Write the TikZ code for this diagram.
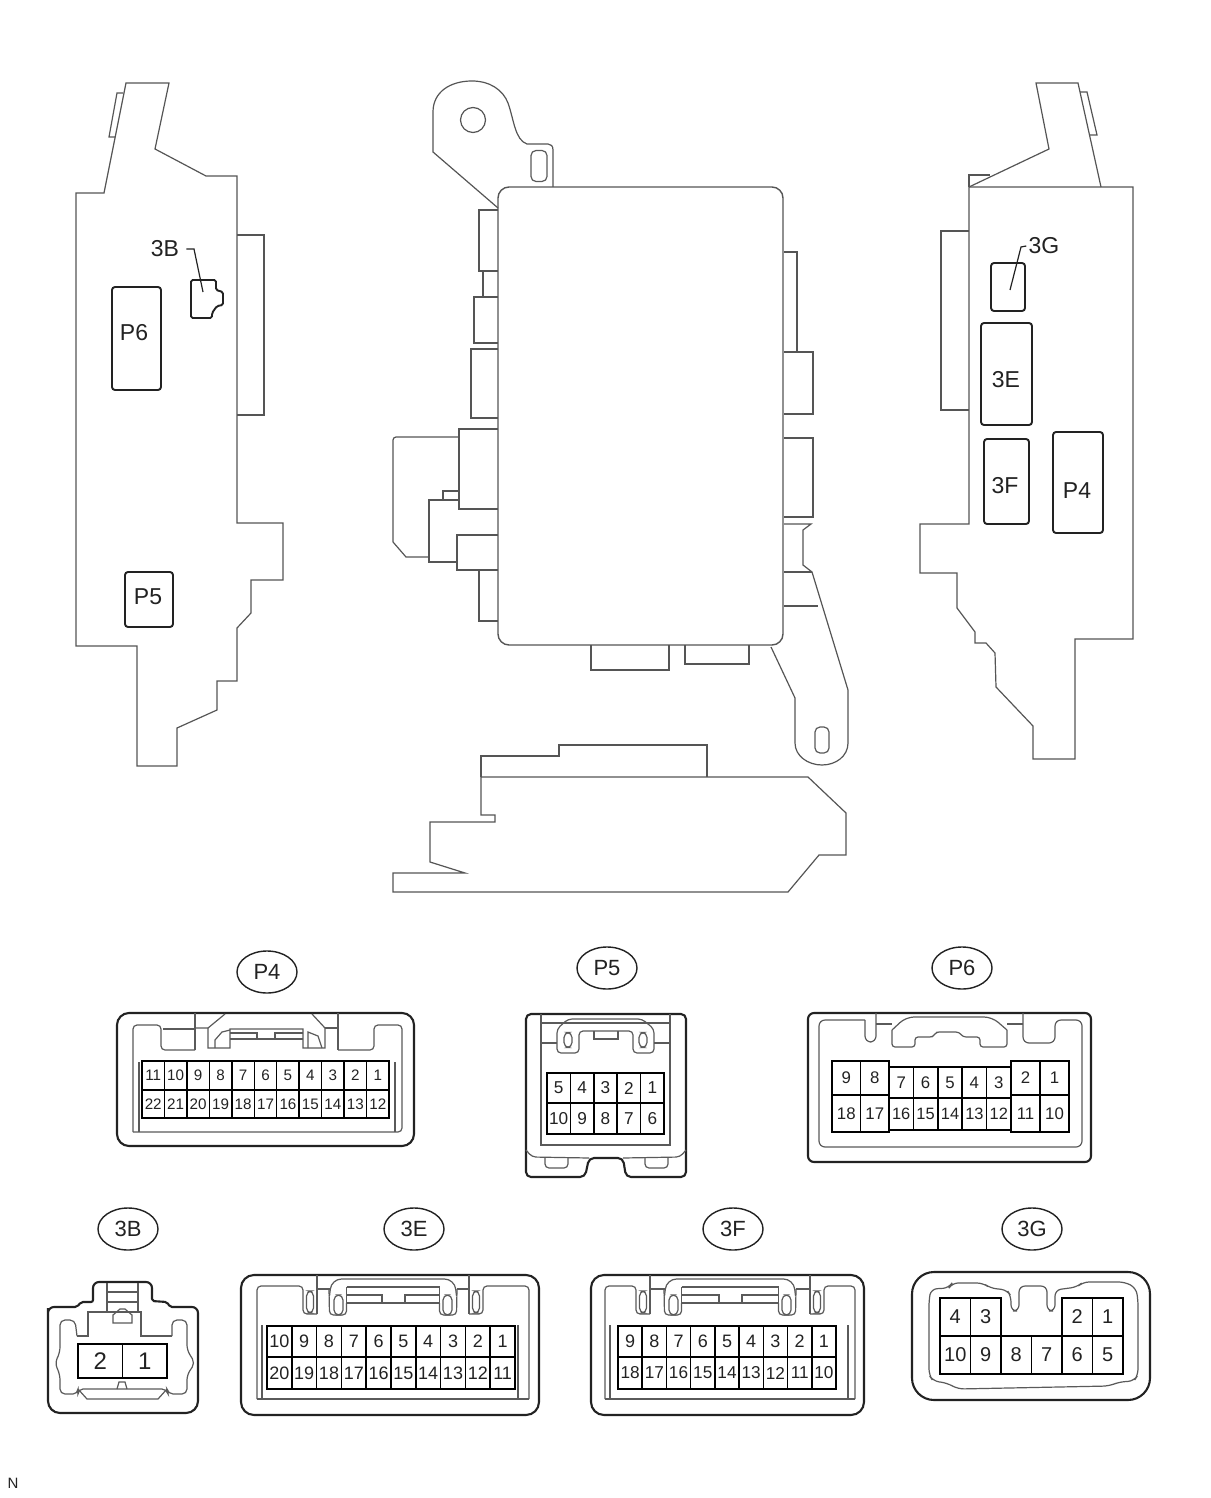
\documentclass[tikz,border=0pt]{standalone}
\usepackage{fontspec}
\setmainfont{Liberation Sans}
\usetikzlibrary{shapes.geometric}
\definecolor{ln}{HTML}{555555}
\definecolor{il}{HTML}{5A5A5A}
\definecolor{ol}{HTML}{222222}
\tikzset{
  panel/.style={draw=ln,line width=.6pt,line join=miter},
  box/.style={draw=ol,line width=.95pt,rounded corners=1.5pt},
  boxlabel/.style={font=\fontsize{11.5}{12}\selectfont,inner sep=0pt,text=ol},
  shell/.style={draw=ol,line width=1.05pt},
  inner/.style={draw=il,line width=.6pt},
  cell/.style={draw=black,line width=.75pt},
  tag/.style={ellipse,draw=ol,line width=.7pt,minimum width=30pt,minimum height=21pt,inner sep=0pt,font=\fontsize{11}{12}\selectfont,text=ol},
  pin/.style={inner sep=0pt,text=ol}
}
% name, x0, x1, n, ytop, ybot, fontsize, labels
\newcommand\pinrow[8]{%
  \pgfmathsetmacro\pw{(#3-#2)/#4}%
  \foreach \t [count=\i from 0] in {#8}{%
    \pgfmathsetmacro\xa{#2+\i*\pw}%
    \pgfmathsetmacro\xb{#2+(\i+1)*\pw}%
    \draw[cell] (\xa,#5) rectangle (\xb,#6);
    \node[pin,font=\fontsize{#7}{#7}\selectfont] (#1-\t) at ({(\xa+\xb)/2},{(#5+#6)/2}) {\t};
  }%
}
\newcommand\slot[4]{\draw[inner,rounded corners=2.5pt] ({(#1)-(#3)/2},{#2-#4/2}) rectangle ({(#1)+(#3)/2},{#2+#4/2});}
% latch of 3E/3F: cx, latch half, tab half, wallL, wallR
\newcommand\latch[5]{%
  \draw[inner,rounded corners=2pt] (#4,1399)--(#4,1286)--({#1-#3-14},1286)--({#1-#3-14},1314)--({#1-#3},1314);
  \draw[inner] ({#1-#3},1275)--({#1-#3},1314);
  \draw[inner,rounded corners=2pt] (#5,1399)--(#5,1286)--({#1+#3+14},1286)--({#1+#3+14},1314)--({#1+#3},1314);
  \draw[inner] ({#1+#3},1275)--({#1+#3},1314);
  \draw[inner] ({#1-#3},1289)--({#1-#2},1289);
  \draw[inner] ({#1+#3},1289)--({#1+#2},1289);
  \draw[inner,rounded corners=2pt] ({#1-#2-.5},1289)--({#1-#2},1315)--({#1-#2+17},1315)--({#1-#2+17},1303);
  \draw[inner,rounded corners=2pt] ({#1+#2+.5},1289)--({#1+#2},1315)--({#1+#2-17},1315)--({#1+#2-17},1303);
  \draw[inner,rounded corners=5pt] ({#1-#2},1296)--({#1-#2+2},1279)--({#1+#2-2},1279)--({#1+#2},1296);
  \draw[inner] ({#1-#2+17},1287)--({#1+#2-17},1287) ({#1-#2+17},1303)--({#1+#2-17},1303) ({#1-#2+17},1287)--({#1-#2+17},1303) ({#1+#2-17},1287)--({#1+#2-17},1303);
  \draw[inner] ({#1-#2+17},1295)--({#1-11},1295)--({#1-11},1303) ({#1+#2-17},1295)--({#1+12},1295)--({#1+12},1303);
  \slot{#1-#2+9}{1305}{9}{20}
  \slot{#1+#2-9}{1305}{9}{20}
  \slot{#1-#3-7}{1302}{7}{22}
  \slot{#1+#3+7}{1302}{7}{22}
}
\begin{document}
\begin{tikzpicture}[x=.5pt,y=-.5pt]
\path[use as bounding box,fill=white] (0,0) rectangle (1210,1498);

%%% left panel
\draw[panel] (126,83)--(169,83)--(155,149)--(206,176)--(237,176)--(237,523)--(283,523)--(283,580)--(251,580)--(251,613)--(237,628)--(237,681)--(217,681)--(217,710)--(177,728)--(177,766)--(137,766)--(137,646)--(76,646)--(76,193)--(104,193)--cycle;
\draw[panel] (123,93)--(117,93)--(109,137)--(115,137);
\draw[panel] (237,235)--(264,235)--(264,415)--(237,415);
\node[boxlabel] (lbl3B) at (165,249) {3B};
\coordinate (tip3B) at (203,292);
\draw[panel,draw=ol] ([xshift=3.5pt]lbl3B.east)--(194,249)--(tip3B);
\draw[box,rounded corners=.8pt] (191,280)--(216,280)--(216,290)--(223,292)--(223,305)--(217,306)--(212,313)--(212,318)--(191,318)--cycle;
\draw[box] (112,287) rectangle (161,390);
\node[boxlabel] (boxP6) at (134,333) {P6};
\draw[box] (125,572) rectangle (173,627);
\node[boxlabel] (boxP5) at (148,597) {P5};

%%% centre unit
\draw[panel] (498,208)--(433,152)--(433,112) .. controls (433,92) and (450,81) .. (472,81) .. controls (490,81) and (503,90) .. (508,103) .. controls (514,120) and (515,140) .. (527,144)--(548,144) .. controls (551,144) and (553,146) .. (553,150)--(553,187);
\draw[panel] (473,120) circle (12.5);
\slot{539}{166}{16}{31}
\draw[panel] (498,210)--(479,210)--(479,271)--(498,271);
\draw[panel] (483,271)--(483,297);
\draw[panel] (498,297)--(474,297)--(474,343)--(498,343);
\draw[panel] (498,349)--(471,349)--(471,418)--(498,418);
\draw[panel] (498,429)--(459,429)--(459,509)--(498,509);
\draw[panel,rounded corners=1.5pt] (459,437)--(393,437)--(393,542);
\draw[panel] (393,542)--(406,557)--(429,557);
\draw[panel] (459,500)--(429,500)--(429,562)--(457,562);
\draw[panel] (443,500)--(443,491)--(459,491);
\draw[panel] (498,535)--(457,535)--(457,570)--(498,570);
\draw[panel] (479,570)--(479,621)--(498,621);
\draw[panel] (591,645)--(591,670)--(669,670)--(669,645);
\draw[panel] (685,645)--(685,664)--(749,664)--(749,645);
\draw[panel] (784,252)--(797,252)--(797,352);
\draw[panel] (784,352)--(813,352)--(813,414)--(784,414);
\draw[panel] (784,438)--(813,438)--(813,517)--(784,517);
\draw[panel] (784,524)--(811,524)--(803,530)--(803,565)--(812,572)--(848,690)--(848,743) .. controls (848,756) and (836,765) .. (822,765) .. controls (808,765) and (795,756) .. (795,743)--(795,698)--(771,647);
\draw[panel] (784,572)--(812,572);
\draw[panel] (784,606)--(818,606);
\slot{822}{740}{14}{26}
\draw[panel,line width=.7pt,rounded corners=5.5pt] (498,187) rectangle (783,645);

%%% lower part
\draw[panel] (481,777)--(481,756)--(559,756)--(559,745)--(707,745)--(707,777);
\draw[panel] (481,777)--(808,777)--(846,813)--(846,855)--(819,855)--(788,892)--(393,892)--(393,873)--(465,873)--(430,862)--(430,822)--(495,822)--(495,815)--(481,815)--cycle;

%%% right panel
\draw[panel] (969,187)--(1133,187)--(1133,639)--(1075,639)--(1075,759)--(1033,759)--(1033,726)--(996,687)--(995,653)--(986,643)--(975,643)--(975,632)--(957,608)--(957,573)--(920,573)--(920,524)--(969,524)--cycle;
\draw[panel] (969,187)--(1049,149)--(1036,83)--(1078,83)--(1101,187);
\draw[panel] (969,187)--(969,175)--(990,175);
\draw[panel] (1080,92)--(1087,92)--(1097,135)--(1090,135);
\draw[panel] (969,231)--(941,231)--(941,410)--(969,410);
\draw[box] (991,263) rectangle (1025,311);
\node[boxlabel] (lbl3G) at (1044,246) {3G};
\coordinate (tip3G) at (1010,290);
\draw[panel,draw=ol] ([xshift=-1pt]lbl3G.west)--(1021,247)--(tip3G);
\draw[box] (981,323) rectangle (1032,425);
\node[boxlabel] (box3E) at (1006,380) {3E};
\draw[box] (984,439) rectangle (1029,524);
\node[boxlabel] (box3F) at (1005,486) {3F};
\draw[box] (1053,432) rectangle (1103,533);
\node[boxlabel] (boxP4) at (1077,491) {P4};

%%% tags
\node[tag] (tP4) at (267,972) {P4};
\node[tag] (tP5) at (607,968) {P5};
\node[tag] (tP6) at (962,968) {P6};
\node[tag] (t3B) at (128,1229) {3B};
\node[tag] (t3E) at (414,1229) {3E};
\node[tag] (t3F) at (733,1229) {3F};
\node[tag] (t3G) at (1032,1229) {3G};

%%% P4
\draw[shell,rounded corners=6pt] (117,1013) rectangle (414,1146);
\draw[inner,rounded corners=2pt] (133,1132)--(133,1025)--(161,1025)--(161,1050)--(195,1050);
\draw[inner] (195,1013)--(195,1050) (163,1029)--(195,1029) (139,1062)--(139,1132);
\draw[inner] (195,1028)--(208,1028)--(225,1014);
\draw[inner] (208,1028)--(208,1048)--(230,1048)--(230,1029)--(303,1029)--(303,1048)--(325,1048)--(325,1028)--(312,1014);
\draw[inner] (215,1048)--(215,1040)--(222,1032)--(230,1030) (308,1048)--(308,1032)--(318,1036)--(322,1048);
\draw[inner] (230,1033)--(257,1033)--(257,1039) (303,1033)--(275,1033)--(275,1039) (230,1039)--(303,1039);
\draw[inner] (325,1028)--(338,1028) (338,1013)--(338,1050);
\draw[inner,rounded corners=2pt] (338,1050)--(374,1050)--(374,1025)--(402,1025)--(402,1132)--(133,1132);
\draw[inner] (395,1062)--(395,1132);
\pinrow{pfour}{142}{389}{11}{1061}{1090}{7.6}{11,10,9,8,7,6,5,4,3,2,1}
\pinrow{pfour}{142}{389}{11}{1090}{1118}{7.6}{22,21,20,19,18,17,16,15,14,13,12}

%%% P5
\draw[shell,rounded corners=2.5pt] (526,1157)--(526,1014)--(686,1014)--(686,1177)--(626,1177)--(623,1158)--(589,1158)--(585,1177)--(526,1177)--cycle;
\draw[inner,rounded corners=2pt] (526,1150)--(532,1157)--(589,1158) (623,1158)--(680,1157)--(686,1150);
\draw[inner] (541,1014)--(541,1145)--(670,1145)--(670,1014) (541,1023)--(670,1023);
\draw[inner,rounded corners=2pt] (545,1158)--(545,1168)--(568,1168)--(568,1158) (645,1158)--(645,1168)--(668,1168)--(668,1158);
\draw[inner,rounded corners=2pt] (557,1045)--(557,1029)--(568,1019)--(642,1019)--(654,1029)--(654,1053)--(633,1053)--(633,1031)--(579,1031)--(579,1053)--(557,1053)--cycle;
\draw[inner] (594,1031)--(594,1039)--(618,1039)--(618,1031);
\draw[inner] (541,1043)--(557,1043) (654,1043)--(670,1043);
\slot{568}{1040}{8}{15}
\slot{643}{1040}{8}{15}
\pinrow{pfive}{547}{664}{5}{1073}{1103}{8.6}{5,4,3,2,1}
\pinrow{pfive}{547}{664}{5}{1103}{1134}{8.6}{10,9,8,7,6}

%%% P6
\draw[shell,rounded corners=3pt] (808,1013) rectangle (1091,1162);
\draw[inner,rounded corners=3pt] (865,1020)--(865,1042)--(876,1042)--(876,1013);
\draw[inner] (876,1024)--(892,1024);
\draw[inner,rounded corners=3pt] (865,1020)--(819,1020)--(819,1147)--(1082,1147)--(1082,1020)--(1055,1020)--(1055,1043)--(1023,1043)--(1023,1013);
\draw[inner] (1007,1024)--(1023,1024);
\draw[inner,rounded corners=1.5pt] (892,1030)--(892,1047)--(915,1047)--(915,1037)--(933,1037)--(936,1032)--(959,1032)--(963,1037)--(980,1037)--(980,1047)--(1007,1047)--(1007,1030);
\draw[inner,rounded corners=4pt] (892,1030)--(906,1017)--(992,1017)--(1007,1030);
\pinrow{psix}{832}{889}{2}{1061}{1095}{8.4}{9,8}
\pinrow{psix}{832}{889}{2}{1095}{1132}{8.4}{18,17}
\pinrow{psix}{889}{1011}{5}{1067}{1098}{8.4}{7,6,5,4,3}
\pinrow{psix}{889}{1011}{5}{1098}{1130}{8.2}{16,15,14,13,12}
\pinrow{psix}{1011}{1069}{2}{1061}{1095}{8.4}{2,1}
\pinrow{psix}{1011}{1069}{2}{1095}{1132}{8.4}{11,10}

%%% 3B
\draw[shell,rounded corners=6pt] (122,1413)--(48,1413)--(48,1320) [rounded corners=3pt] --(48,1307) [rounded corners=1pt] --(77,1307)--(81,1302)--(93,1302) [rounded corners=3pt] --(93,1282)--(152,1282) [rounded corners=1pt] --(152,1301)--(167,1302)--(170,1307) [rounded corners=3pt] --(198,1307) [rounded corners=6pt] --(198,1413)--(122,1413);
\draw[inner,rounded corners=2.5pt] (77,1336)--(75,1320)--(60,1320)--(60,1352)--(55,1363)--(60,1375)--(60,1394)--(78,1394)--(78,1389)--(167,1389)--(168,1394)--(187,1394)--(187,1375)--(195,1363)--(187,1350)--(187,1320)--(172,1320)--(172,1336);
\draw[inner] (77,1336)--(88,1336)--(88,1312)--(107,1312) (138,1312)--(141,1312)--(141,1336)--(172,1336);
\draw[inner] (107,1283)--(107,1312) (138,1283)--(138,1312) (107,1292)--(138,1292) (107,1302)--(138,1302) (107,1312)--(138,1312);
\draw[inner] (113,1315)--(113,1323)--(132,1323)--(132,1315)--(125,1309)--(120,1309)--cycle;
\draw[inner] (117,1389)--(119,1382)--(125,1382)--(127,1389);
\draw[inner] (78,1389)--(87,1399)--(158,1399)--(167,1389);
\pinrow{pthreeb}{78}{167}{2}{1344}{1378}{12}{2,1}

%%% 3E
\draw[shell,rounded corners=6.5pt] (241,1275) rectangle (539,1415);
\latch{393}{63.5}{76}{257}{529}
\draw[inner] (257,1399)--(529,1399) (262,1325)--(262,1399) (518,1325)--(518,1399);
\pinrow{pthreee}{267}{515}{10}{1326}{1357}{9}{10,9,8,7,6,5,4,3,2,1}
\pinrow{pthreee}{267}{515}{10}{1357}{1389}{9}{20,19,18,17,16,15,14,13,12,11}

%%% 3F
\draw[shell,rounded corners=6.5pt] (591,1275) rectangle (864,1415);
\latch{730}{65.5}{80}{605}{855}
\draw[inner] (605,1399)--(855,1399) (610,1325)--(610,1399) (848,1325)--(848,1399);
\pinrow{pthreef}{618}{836}{9}{1326}{1357}{9}{9,8,7,6,5,4,3,2,1}
\pinrow{pthreef}{618}{836}{9}{1357}{1389}{8.6}{18,17,16,15,14,13,12,11,10}

%%% 3G
\draw[shell,rounded corners=11pt] (912,1272) rectangle (1150,1400);
\draw[inner,rounded corners=3pt] (929,1300)--(931,1289)--(949,1288)--(952,1283)--(983,1283)--(990,1288)--(1007,1290)--(1011,1296)--(1011,1311)--(1019,1311)--(1019,1286)--(1047,1286)--(1047,1311)--(1055,1311)--(1055,1290)--(1077,1287)--(1083,1282)--(1125,1282)--(1136,1288)--(1138,1300)--(1138,1375)--(1134,1381)--(1119,1382)--(1109,1386)--(958,1389)--(947,1383)--(933,1381)--(929,1375)--cycle;
\pinrow{pthreeg}{940}{1001}{2}{1298}{1336}{10}{4,3}
\pinrow{pthreeg}{1062}{1123}{2}{1298}{1336}{10}{2,1}
\pinrow{pthreeg}{940}{1123}{6}{1336}{1374}{10}{10,9,8,7,6,5}

\node[inner sep=0pt,text=ol,font=\fontsize{7.5}{8}\selectfont] (noteN) at (13,1483) {N};
\end{tikzpicture}
\end{document}
